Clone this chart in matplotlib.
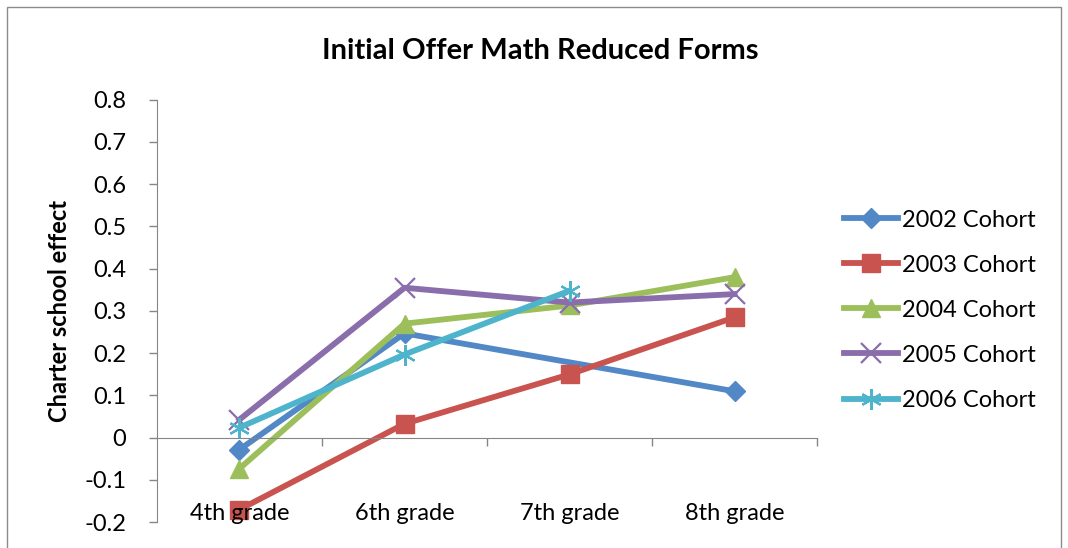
import numpy as np
import matplotlib
matplotlib.use('Agg')
import matplotlib.pyplot as plt
from matplotlib.patches import Rectangle
from matplotlib.lines import Line2D

plt.rcParams['font.family'] = ['Lato', 'DejaVu Sans']

#data (nan = no value for that grade)
grades = ['4th grade', '6th grade', '7th grade', '8th grade']
cohort_names = ['2002 Cohort', '2003 Cohort', '2004 Cohort', '2005 Cohort', '2006 Cohort']
c2002 = [-0.028, 0.247, np.nan, 0.110]
c2003 = [-0.170, 0.033, 0.150, 0.285]
c2004 = [-0.073, 0.270, 0.313, 0.380]
c2005 = [0.043, 0.355, 0.320, 0.340]
c2006 = [0.024, 0.197, 0.348, np.nan]
yticks = [-0.2, -0.1, 0, 0.1, 0.2, 0.3, 0.4, 0.5, 0.6, 0.7, 0.8]

colors = ['#5288C6', '#C9544F', '#9DBF5B', '#8A6DAB', '#4DB4CC']
markers = ['D', 's', '^', 'x', (6, 2, 0)]
msizes = [10, 13, 13, 14, 15]
axcol = '#868686'
LW = 4.2

def style(mk, ms, col):
	#thin cross style markers, filled ones for the rest
	if mk in ('x', (6, 2, 0)):
		return dict(marker=mk, ms=ms, mew=1.6, mec=col)
	return dict(marker=mk, ms=ms, mec=col, mfc=col)

fig = plt.figure(figsize=(10.68, 5.48), dpi=100)
ax = fig.add_axes([0.147, 0.047, 0.618, 0.771])

x = np.arange(len(grades))
for vals, name, col, mk, ms in zip([c2002, c2003, c2004, c2005, c2006], cohort_names, colors, markers, msizes):
	v = np.array(vals)
	ok = ~np.isnan(v)
	ax.plot(x[ok], v[ok], color=col, lw=LW, label=name, zorder=2, **style(mk, ms, col))

ax.set_xlim(-0.5, 3.5)
ax.set_ylim(-0.2, 0.8)
ax.set_yticks(yticks)
ax.set_yticklabels(['0' if t == 0 else f'{t:.1f}' for t in yticks])
ax.tick_params(axis='y', length=6, width=1, color=axcol, pad=16, labelsize=17)

for s in ['top', 'right']:
	ax.spines[s].set_visible(False)
ax.spines['left'].set_color(axcol)
ax.spines['bottom'].set_color(axcol)
ax.spines['bottom'].set_position(('data', 0))
ax.set_xticks([0.5, 1.5, 2.5, 3.5])
ax.set_xticklabels([])
ax.tick_params(axis='x', length=6, width=1, color=axcol, direction='out')

#category labels near the bottom of the plot area, on top of the markers
for xi, g in zip(x, grades):
	ax.text(xi, 0.005, g, transform=ax.get_xaxis_transform(), ha='center', va='baseline',
			fontsize=17, zorder=10, clip_on=False)

ax.set_ylabel('Charter school effect', fontsize=17, fontweight='bold', labelpad=10)
fig.text(0.506, 0.907, 'Initial Offer Math Reduced Forms', ha='center', va='center',
		 fontsize=21, fontweight='bold')

handles = [Line2D([], [], color=col, lw=LW, **style(mk, ms, col))
		   for col, mk, ms in zip(colors, markers, msizes)]
fig.legend(handles, cohort_names, loc='center left', bbox_to_anchor=(0.7705, 0.434),
		   frameon=False, fontsize=17, handlelength=2.3, handletextpad=0.15,
		   labelspacing=1.02)

fig.patches.append(Rectangle((0.0066, -0.01), 0.9868, 0.997, transform=fig.transFigure,
							 fill=False, edgecolor='#8c8c8c', lw=1))

fig.savefig('out.png', dpi=100)
